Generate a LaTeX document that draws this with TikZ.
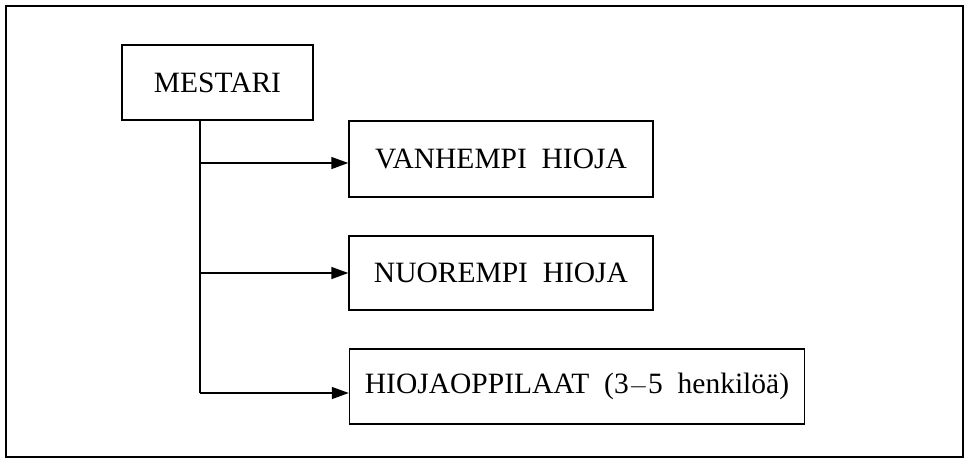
\documentclass[tikz,border=0pt]{standalone}
\usepackage{fontspec}
\setmainfont{Liberation Serif}
\usetikzlibrary{arrows.meta}
\begin{document}
\begin{tikzpicture}[x=1pt,y=-1pt,
  box/.style={draw, line width=1.4pt, inner sep=0pt, font=\fontsize{29.5}{31}\selectfont},
  conn/.style={line width=1.4pt, -{Triangle[length=17pt,width=12pt]}},
  frame/.style={line width=1.4pt}]
\useasboundingbox (0,0) rectangle (965,459);
\draw[frame] (6,6) rectangle (963,457);
\node[box, minimum width=191pt, minimum height=75pt] (m) at (217.5,82.5) {MESTARI};
\node[box, minimum width=304pt, minimum height=76pt] (v) at (501,159) {VANHEMPI\hspace{0.5em}HIOJA};
\node[box, minimum width=304pt, minimum height=74pt] (n) at (501,273) {NUOREMPI\hspace{0.5em}HIOJA};
\node[box, minimum width=455pt, minimum height=75pt] (h) at (577,386.5) {HIOJAOPPILAAT\hspace{0.5em}(3$-$5\hspace{0.5em}henkilöä)};
\coordinate (top) at (200,120);
\coordinate (j1) at (200,163);
\coordinate (j2) at (200,273);
\coordinate (j3) at (200,393);
\draw[line width=1.4pt] (top) -- (j3);
\draw[conn] (j1) -- (j1 -| v.west);
\draw[conn] (j2) -- (j2 -| n.west);
\draw[conn] (j3) -- (j3 -| h.west);
\end{tikzpicture}
\end{document}
